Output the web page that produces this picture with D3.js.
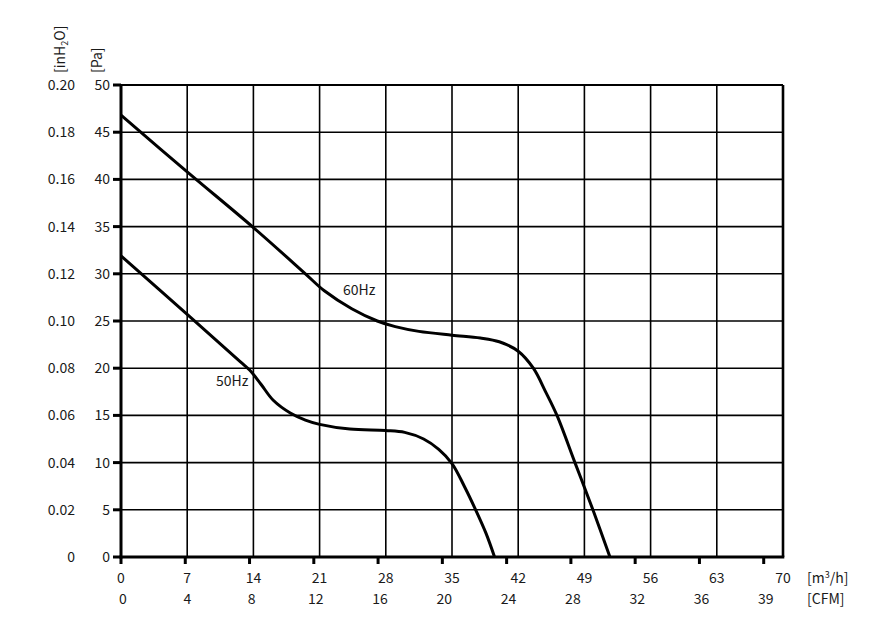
<!DOCTYPE html>
<html>
<head>
<meta charset="utf-8">
<script src="https://cdn.jsdelivr.net/npm/d3@7"></script>
<style>
  body { margin: 0; background: #fff; }
  text { font-family: "Noto Sans CJK SC", "Noto Sans", sans-serif; fill: #1a1a1a; }
</style>
</head>
<body>
<svg id="chart" width="872" height="623"></svg>
<script>
// airflow [m3/h] vs static pressure [Pa]
var flow60 = [0, 7, 14, 19.5, 21.5, 24.4, 27.1, 29, 31.5, 35, 38, 40, 42, 43.6, 44.9, 46.1, 48, 49.9, 51.7];
var pres60 = [46.8, 40.8, 34.9, 30, 28.2, 26.3, 25, 24.4, 23.9, 23.5, 23.2, 22.8, 21.8, 20, 17.5, 15, 10, 5, 0];
var flow50 = [0, 7, 12.6, 13.6, 14.8, 16.1, 17.9, 19.5, 21, 24.2, 28, 30, 32, 33.6, 35, 36.3, 37.5, 38.6, 39.5];
var pres50 = [31.9, 25.7, 20.7, 19.8, 18.3, 16.6, 15.25, 14.5, 14.05, 13.55, 13.4, 13.2, 12.5, 11.4, 9.9, 7.5, 5, 2.5, 0];

var m3hTicks = [0, 7, 14, 21, 28, 35, 42, 49, 56, 63, 70];
var cfmTicks = [0, 4, 8, 12, 16, 20, 24, 28, 32, 36, 40];
var cfmLabels = ["0", "4", "8", "12", "16", "20", "24", "28", "32", "36", "39"];
var paTicks = [0, 5, 10, 15, 20, 25, 30, 35, 40, 45, 50];
var inh2oLabels = ["0", "0.02", "0.04", "0.06", "0.08", "0.10", "0.12", "0.14", "0.16", "0.18", "0.20"];
var CFM_TO_M3H = 1.699;

var svg = d3.select("#chart");
// plot box (note: "top" is taken by window.top)
var pLeft = 121, pRight = 783, pTop = 85, pBottom = 557;

var x = d3.scaleLinear().domain([0, 70]).range([pLeft, pRight]);
var y = d3.scaleLinear().domain([0, 50]).range([pBottom, pTop]);

// grid
svg.append("g").selectAll("line").data(m3hTicks).join("line")
    .attr("x1", d => x(d)).attr("x2", d => x(d))
    .attr("y1", pTop).attr("y2", pBottom)
    .attr("stroke", "#000").attr("stroke-width", 1.6);
svg.append("g").selectAll("line").data(paTicks).join("line")
    .attr("x1", pLeft).attr("x2", pRight)
    .attr("y1", d => y(d)).attr("y2", d => y(d))
    .attr("stroke", "#000").attr("stroke-width", 1.6);

// frame
svg.append("line").attr("x1", pLeft).attr("x2", pRight).attr("y1", pTop).attr("y2", pTop)
    .attr("stroke", "#000").attr("stroke-width", 2.2);
svg.append("line").attr("x1", pRight).attr("x2", pRight).attr("y1", pTop).attr("y2", pBottom)
    .attr("stroke", "#000").attr("stroke-width", 2.6);
svg.append("line").attr("x1", pLeft).attr("x2", pLeft).attr("y1", pTop - 1).attr("y2", pBottom + 1.5)
    .attr("stroke", "#000").attr("stroke-width", 3);
svg.append("line").attr("x1", pLeft - 1.5).attr("x2", pRight + 1.3).attr("y1", pBottom).attr("y2", pBottom)
    .attr("stroke", "#000").attr("stroke-width", 3);

// ticks on left (Pa) and bottom (CFM)
svg.append("g").selectAll("line").data(paTicks).join("line")
    .attr("x1", pLeft - 8).attr("x2", pLeft)
    .attr("y1", d => y(d)).attr("y2", d => y(d))
    .attr("stroke", "#000").attr("stroke-width", 3);
svg.append("g").selectAll("line").data(cfmTicks).join("line")
    .attr("x1", d => x(d * CFM_TO_M3H)).attr("x2", d => x(d * CFM_TO_M3H))
    .attr("y1", pBottom).attr("y2", pBottom + 7)
    .attr("stroke", "#000").attr("stroke-width", 3);

// left labels
svg.append("g").selectAll("text").data(paTicks).join("text")
    .attr("x", 110).attr("y", d => y(d) + 5)
    .attr("text-anchor", "end").attr("font-size", 14)
    .text(d => d);
svg.append("g").selectAll("text").data(inh2oLabels).join("text")
    .attr("x", 75).attr("y", (d, i) => y(paTicks[i]) + 5)
    .attr("text-anchor", "end").attr("font-size", 14)
    .text(d => d);

// bottom labels
svg.append("g").selectAll("text").data(m3hTicks).join("text")
    .attr("x", d => x(d)).attr("y", 583)
    .attr("text-anchor", "middle").attr("font-size", 14)
    .text(d => d);
svg.append("g").selectAll("text").data(cfmTicks).join("text")
    .attr("x", d => x(d * CFM_TO_M3H) + 2).attr("y", 604)
    .attr("text-anchor", "middle").attr("font-size", 14)
    .text((d, i) => cfmLabels[i]);

// unit labels
var u1 = svg.append("text").attr("font-size", 14)
    .attr("transform", "translate(65,73) rotate(-90)");
u1.append("tspan").text("[inH");
u1.append("tspan").attr("font-size", 9).attr("dy", 3).text("2");
u1.append("tspan").attr("dy", -3).text("O]");
svg.append("text").attr("font-size", 14)
    .attr("transform", "translate(102,73) rotate(-90)")
    .text("[Pa]");
var u2 = svg.append("text").attr("font-size", 14).attr("x", 807).attr("y", 583);
u2.append("tspan").text("[m");
u2.append("tspan").attr("font-size", 9).attr("dy", -5).text("3");
u2.append("tspan").attr("dy", 5).text("/h]");
svg.append("text").attr("font-size", 14).attr("x", 807).attr("y", 604).text("[CFM]");

// curves
var line = d3.line()
    .x(d => x(d[0])).y(d => y(d[1]))
    .curve(d3.curveCatmullRom.alpha(0.5));
svg.append("path").datum(d3.zip(flow60, pres60))
    .attr("d", line).attr("fill", "none")
    .attr("stroke", "#000").attr("stroke-width", 3);
svg.append("path").datum(d3.zip(flow50, pres50))
    .attr("d", line).attr("fill", "none")
    .attr("stroke", "#000").attr("stroke-width", 3);

svg.append("text").attr("x", 343).attr("y", 295).attr("font-size", 14).text("60Hz");
svg.append("text").attr("x", 216).attr("y", 386).attr("font-size", 14).text("50Hz");
</script>
</body>
</html>
